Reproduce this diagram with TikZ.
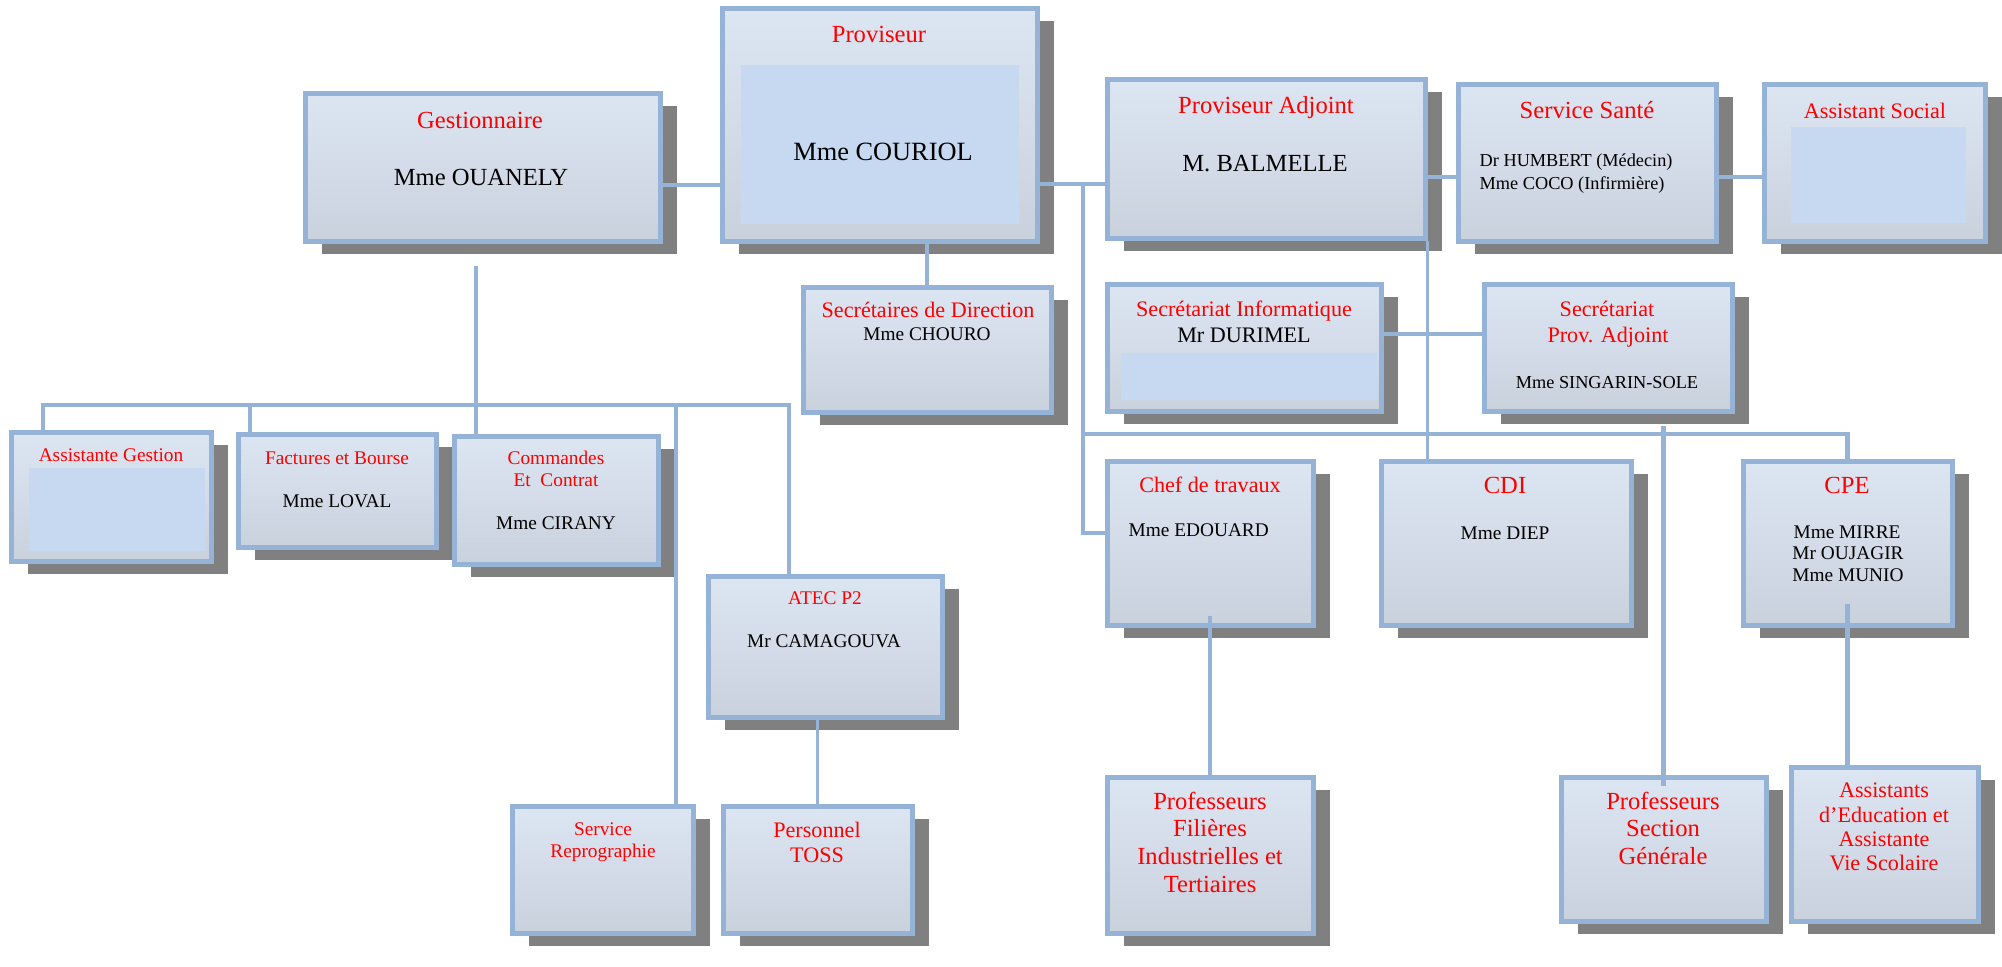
\documentclass[tikz,border=0pt]{standalone}
\usepackage{fontspec}
\setmainfont{Liberation Serif}
\usetikzlibrary{fit,shadows}

\definecolor{lineblue}{HTML}{95B3D7}
\definecolor{boxtop}{HTML}{DCE6F2}
\definecolor{boxbot}{HTML}{C9D1DD}
\definecolor{innerblue}{HTML}{C6D9F1}
\definecolor{shadowgray}{HTML}{808080}

\tikzset{
  orgbox/.style={draw=lineblue, line width=0.5mm, top color=boxtop, bottom color=boxbot, inner sep=0pt,
    drop shadow={shadow xshift=1.7mm, shadow yshift=-1.3mm, fill=shadowgray, opacity=1}},
  conn/.style={draw=lineblue, line width=0.45mm},
  connthin/.style={draw=lineblue, line width=0.35mm},
  ttl/.style={text=red, anchor=base, inner sep=0pt},
  nm/.style={text=black, anchor=base, inner sep=0pt},
  fbig/.style={font=\fontsize{7}{8}\selectfont},
  fmid/.style={font=\fontsize{6.3}{7}\selectfont},
  fsml/.style={font=\fontsize{5.5}{6}\selectfont},
  fxs/.style={font=\fontsize{5.2}{6}\selectfont}
}

\begin{document}
\begin{tikzpicture}[x=0.1mm, y=-0.1mm]
  \useasboundingbox (0,0) rectangle (2002,966);

  % boxes, top row
  \node[orgbox, fit={(305,93) (660,241)}] (gest) {};
  \node[orgbox, fit={(722,8) (1037,241)}] (prov) {};
  \node[orgbox, fit={(1107,79) (1425,238)}] (adj) {};
  \node[orgbox, fit={(1458,84) (1716,241)}] (sante) {};
  \node[orgbox, fit={(1764,84) (1985,241)}] (social) {};
  % secretariats
  \node[orgbox, fit={(803,287) (1051,412)}] (secdir) {};
  \node[orgbox, fit={(1107,284) (1381,411)}] (secinfo) {};
  \node[orgbox, fit={(1484,284) (1732,411)}] (secadj) {};
  % gestion side
  \node[orgbox, fit={(11,432) (211,561)}] (asges) {};
  \node[orgbox, fit={(238,434) (436,547)}] (fact) {};
  \node[orgbox, fit={(454,436) (658,564)}] (comm) {};
  \node[orgbox, fit={(708,576) (942,717)}] (atec) {};
  \node[orgbox, fit={(512,806) (693,933)}] (repro) {};
  \node[orgbox, fit={(723,806) (912,933)}] (toss) {};
  % adjoint side
  \node[orgbox, fit={(1107,461) (1313,625)}] (chef) {};
  \node[orgbox, fit={(1381,461) (1631,625)}] (cdi) {};
  \node[orgbox, fit={(1743,461) (1952,625)}] (cpe) {};
  \node[orgbox, fit={(1107,777) (1313,933)}] (proff) {};
  \node[orgbox, fit={(1561,777) (1766,921)}] (profg) {};
  \node[orgbox, fit={(1791,767) (1978,921)}] (assed) {};

  % lighter panels inside some boxes
  \fill[innerblue] (741,65) rectangle (1019,224);
  \fill[innerblue] (1791,127) rectangle (1966,223);
  \fill[innerblue] (1121,353) rectangle (1377,400);
  \fill[innerblue] (29,468) rectangle (205,551);

  % texts
  \node[ttl, fbig] (prov-t) at (879,42) {Proviseur};
  \node[nm, font=\fontsize{7.5}{9}\selectfont] (prov-n) at (883,160) {Mme COURIOL};
  \node[ttl, fbig] (gest-t) at (480,128) {Gestionnaire};
  \node[nm, fbig] (gest-n) at (481,185) {Mme OUANELY};
  \node[ttl, fbig] (adj-t) at (1266,113) {Proviseur Adjoint};
  \node[nm, fbig] (adj-n) at (1265,171) {M. BALMELLE};
  \node[ttl, fbig] (sante-t) at (1587,118) {Service Santé};
  \node[nm, fxs, anchor=base west] (sante-n1) at (1479,166) {Dr HUMBERT (Médecin)};
  \node[nm, fxs, anchor=base west] (sante-n2) at (1479,189) {Mme COCO (Infirmière)};
  \node[ttl, fmid] (social-t) at (1875,118) {Assistant Social};

  \node[ttl, fmid] (secdir-t) at (928,317) {Secrétaires de Direction};
  \node[nm, fsml] (secdir-n) at (927,340) {Mme CHOURO};
  \node[ttl, fmid] (secinfo-t) at (1244,316) {Secrétariat Informatique};
  \node[nm, fmid] (secinfo-n) at (1244,342) {Mr DURIMEL};
  \node[ttl, fmid] (secadj-t1) at (1607,316) {Secrétariat};
  \node[ttl, fmid] (secadj-t2) at (1608,342) {Prov. Adjoint};
  \node[nm, fxs] (secadj-n) at (1607,388) {Mme SINGARIN-SOLE};

  \node[ttl, fsml] (asges-t) at (111,461) {Assistante Gestion};
  \node[ttl, fsml] (fact-t) at (337,464) {Factures et Bourse};
  \node[nm, fsml] (fact-n) at (337,507) {Mme LOVAL};
  \node[ttl, fsml] (comm-t1) at (556,464) {Commandes};
  \node[ttl, fsml] (comm-t2) at (556,486) {Et\ \ Contrat};
  \node[nm, fsml] (comm-n) at (556,529) {Mme CIRANY};
  \node[ttl, fsml] (atec-t) at (825,604) {ATEC P2};
  \node[nm, fsml] (atec-n) at (824,647) {Mr CAMAGOUVA};
  \node[ttl, fsml] (repro-t1) at (603,835) {Service};
  \node[ttl, fsml] (repro-t2) at (603,857) {Reprographie};
  \node[ttl, fmid] (toss-t1) at (817,837) {Personnel};
  \node[ttl, fmid] (toss-t2) at (817,862) {TOSS};

  \node[ttl, fmid] (chef-t) at (1210,492) {Chef de travaux};
  \node[nm, fsml, anchor=base west] (chef-n) at (1128,536) {Mme EDOUARD};
  \node[ttl, fbig] (cdi-t) at (1505,493) {CDI};
  \node[nm, fsml] (cdi-n) at (1505,539) {Mme DIEP};
  \node[ttl, fbig] (cpe-t) at (1847,493) {CPE};
  \node[nm, fsml] (cpe-n1) at (1847,538) {Mme MIRRE};
  \node[nm, fsml] (cpe-n2) at (1848,559) {Mr OUJAGIR};
  \node[nm, fsml] (cpe-n3) at (1848,581) {Mme MUNIO};

  \node[ttl, fbig] (proff-t1) at (1210,809) {Professeurs};
  \node[ttl, fbig] (proff-t2) at (1210,836) {Filières};
  \node[ttl, fbig] (proff-t3) at (1210,864) {Industrielles et};
  \node[ttl, fbig] (proff-t4) at (1210,892) {Tertiaires};
  \node[ttl, fbig] (profg-t1) at (1663,809) {Professeurs};
  \node[ttl, fbig] (profg-t2) at (1663,836) {Section};
  \node[ttl, fbig] (profg-t3) at (1663,864) {Générale};
  \node[ttl, fmid] (assed-t1) at (1884,797) {Assistants};
  \node[ttl, fmid] (assed-t2) at (1884,822) {d’Education et};
  \node[ttl, fmid] (assed-t3) at (1884,846) {Assistante};
  \node[ttl, fmid] (assed-t4) at (1884,870) {Vie Scolaire};

  % connectors
  \coordinate (jA) at (1083,184);
  \coordinate (busE) at (1083,434);
  \coordinate (busL) at (43,405);
  \coordinate (busR) at (789,405);
  \coordinate (dF) at (250,405);
  \coordinate (dR) at (676,405);
  \coordinate (sa) at (secadj.south -| profg.north);

  \draw[conn] ([yshift=-1.8mm]gest.east) coordinate (g1) -- (g1 -| prov.west);
  \draw[conn] ([yshift=-2.55mm]adj.west) coordinate (a1) -- (a1 -| prov.east);
  \draw[connthin] (jA) |- ([yshift=1mm]chef.west);
  \draw[conn] (busE) -| (cpe.north);
  \draw[connthin] (adj.south east) -- (adj.south east |- cdi.north);
  \draw[conn] ([yshift=-1.85mm]adj.east) coordinate (a2) -- (a2 -| sante.west);
  \draw[conn] ([yshift=-1.45mm]sante.east) coordinate (s1) -- (s1 -| social.west);
  \draw[conn] ([yshift=1.35mm]secinfo.east) coordinate (i1) -- (i1 -| secadj.west);
  \draw[conn] (prov.south -| secdir.north) -- (secdir.north);
  \draw[connthin] ([xshift=-0.65mm, yshift=-2.2mm]gest.south) coordinate (g2) -- (g2 |- comm.north);
  \draw[conn] (asges.north -| busL) -- (busL) -- (busR) -- (busR |- atec.north);
  \draw[conn] (dF) -- (dF |- fact.north);
  \draw[conn] (dR) -- (dR |- repro.north);
  \draw[connthin] (atec.south -| toss.north) -- (toss.north);
  \draw[conn] ([yshift=1.2mm]chef.south) -- (proff.north);
  \draw[conn] ([yshift=2.4mm]cpe.south) -- (cpe.south |- assed.north);
  \draw[conn] ([yshift=-1.2mm]sa) -- ([yshift=-1.1mm]profg.north);
\end{tikzpicture}
\end{document}
